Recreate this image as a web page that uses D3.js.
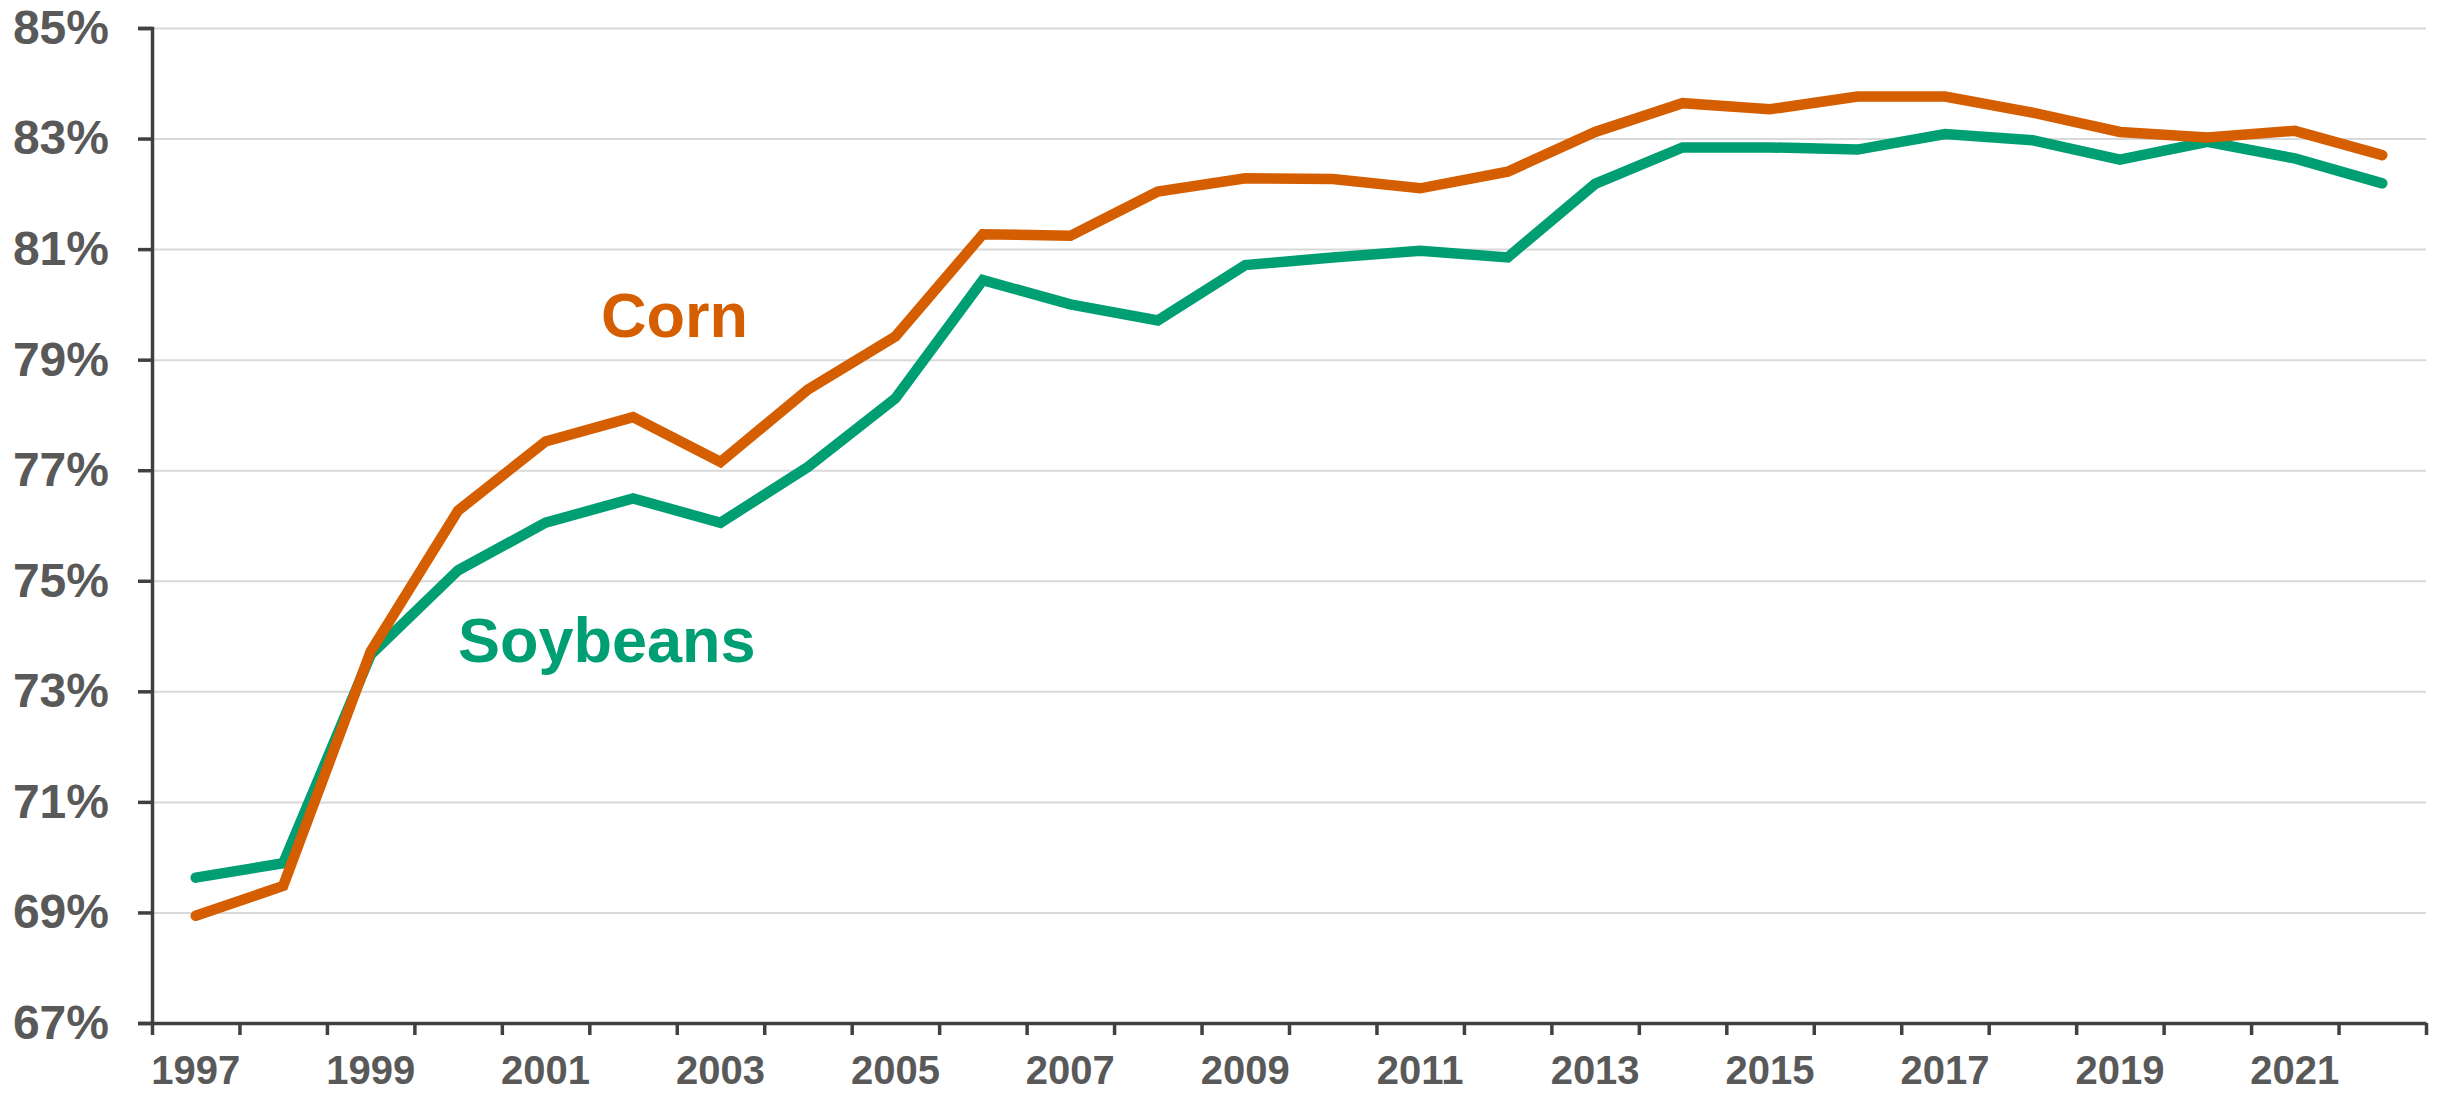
<!DOCTYPE html>
<html>
<head>
<meta charset="utf-8">
<script src="https://cdn.jsdelivr.net/npm/d3@7"></script>
<style>
  body { margin: 0; background: #fff; }
  svg { display: block; font-family: "Liberation Sans", Arial, sans-serif; }
</style>
</head>
<body>
<script>
// Chart data
const years = d3.range(1997, 2023);
const corn = [68.94, 69.48, 73.72, 76.27, 77.52, 77.96, 77.15, 78.46, 79.42, 81.27,
  81.24, 82.04, 82.28, 82.27, 82.10, 82.40, 83.12, 83.64, 83.53, 83.76,
  83.76, 83.47, 83.12, 83.02, 83.14, 82.70];
const soybeans = [69.63, 69.89, 73.66, 75.19, 76.05, 76.49, 76.05, 77.06, 78.30, 80.44,
  80.00, 79.71, 80.71, 80.85, 80.97, 80.85, 82.18, 82.84, 82.84, 82.80,
  83.08, 82.97, 82.62, 82.94, 82.64, 82.19];
const yTicks = [67, 69, 71, 73, 75, 77, 79, 81, 83, 85];
const xLabels = [1997, 1999, 2001, 2003, 2005, 2007, 2009, 2011, 2013, 2015, 2017, 2019, 2021];

// Dimensions
const w = 2450;
const h = 1095;
const marginTop = 28;
const marginRight = 24;
const marginBottom = 72;
const marginLeft = 152;

const textColor = "#595959";
const axisColor = "#404040";

const svg = d3.select("body").append("svg")
  .attr("width", w)
  .attr("height", h);

const x = d3.scaleBand()
  .domain(years)
  .range([marginLeft, w - marginRight])
  .paddingInner(0)
  .paddingOuter(0);

const y = d3.scaleLinear()
  .domain([67, 85])
  .range([h - marginBottom, marginTop]);

const cx = (d, i) => x(years[i]) + x.bandwidth() / 2;

// Gridlines
svg.append("g")
  .attr("transform", `translate(${marginLeft},0)`)
  .call(d3.axisLeft(y)
    .tickValues(yTicks.filter(t => t !== 67))
    .tickSize(-(w - marginRight - marginLeft))
    .tickFormat(""))
  .call(g => g.select(".domain").remove())
  .call(g => g.selectAll(".tick line")
    .attr("stroke", "#d9d9d9")
    .attr("stroke-width", 2));

// Y axis
svg.append("g")
  .attr("transform", `translate(${marginLeft},0)`)
  .call(d3.axisLeft(y)
    .tickValues(yTicks)
    .tickSize(14)
    .tickPadding(29)
    .tickFormat(d => d + "%"))
  .call(g => g.select(".domain").attr("stroke", axisColor).attr("stroke-width", 3.5))
  .call(g => g.selectAll(".tick line").attr("stroke", axisColor).attr("stroke-width", 3.5))
  .call(g => g.selectAll(".tick text")
    .attr("fill", textColor)
    .attr("font-size", 48)
    .attr("font-weight", "bold"));

// X axis: boundary ticks between categories
const xb = d3.scaleLinear()
  .domain([0, years.length])
  .range([marginLeft, w - marginRight]);

svg.append("g")
  .attr("transform", `translate(0,${h - marginBottom})`)
  .call(d3.axisBottom(xb)
    .tickValues(d3.range(0, years.length + 1))
    .tickSize(12)
    .tickSizeOuter(0)
    .tickFormat(""))
  .call(g => g.select(".domain").attr("stroke", axisColor).attr("stroke-width", 3.5))
  .call(g => g.selectAll(".tick line").attr("stroke", axisColor).attr("stroke-width", 3.5));

// X axis labels, centred on categories
svg.append("g")
  .attr("transform", `translate(0,${h - marginBottom})`)
  .call(d3.axisBottom(x)
    .tickValues(xLabels)
    .tickSize(0)
    .tickPadding(33))
  .call(g => g.select(".domain").remove())
  .call(g => g.selectAll(".tick text")
    .attr("fill", textColor)
    .attr("font-size", 40)
    .attr("font-weight", "bold"));

// Lines
const line = d3.line()
  .x(cx)
  .y(d => y(d));

svg.append("path")
  .datum(soybeans)
  .attr("fill", "none")
  .attr("stroke", "#009E73")
  .attr("stroke-width", 10.5)
  .attr("stroke-linecap", "round")
  .attr("d", line);

svg.append("path")
  .datum(corn)
  .attr("fill", "none")
  .attr("stroke", "#D55E00")
  .attr("stroke-width", 10.5)
  .attr("stroke-linecap", "round")
  .attr("d", line);

// Series labels
svg.append("text")
  .attr("x", 601)
  .attr("y", 337)
  .attr("fill", "#D55E00")
  .attr("font-size", 63)
  .attr("font-weight", "bold")
  .text("Corn");

svg.append("text")
  .attr("x", 458)
  .attr("y", 662)
  .attr("fill", "#009E73")
  .attr("font-size", 63)
  .attr("font-weight", "bold")
  .text("Soybeans");
</script>
</body>
</html>
